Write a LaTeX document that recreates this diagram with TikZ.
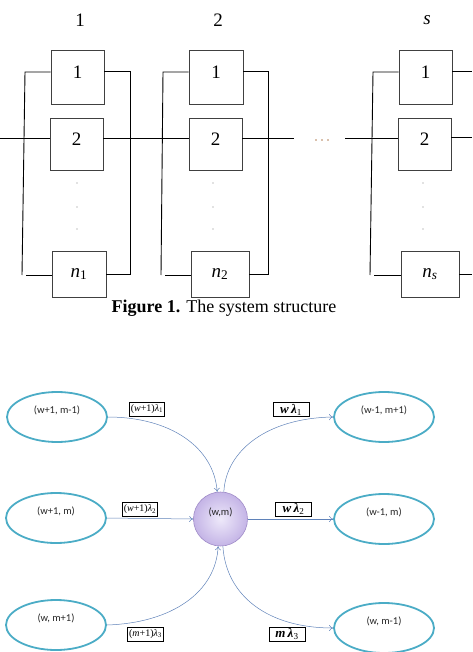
\documentclass[tikz,border=0pt]{standalone}
\usepackage{fontspec}
\setmainfont{Liberation Serif}
\newfontfamily\calib{Carlito}
\usetikzlibrary{shapes.geometric,arrows.meta}
\definecolor{stateteal}{RGB}{75,172,198}
\definecolor{flowblue}{RGB}{95,130,185}
\definecolor{lavin}{RGB}{238,233,250}
\definecolor{lavout}{RGB}{196,180,230}
\definecolor{lavedge}{RGB}{160,140,200}
\definecolor{dotbrown}{RGB}{180,130,90}
\begin{document}
\begin{tikzpicture}[x=1pt,y=-1pt,
  unit/.style={draw=black!75, line width=0.7pt, inner sep=0pt, font=\fontsize{19}{19}\selectfont},
  numunit/.style={unit, text depth=10pt},
  wire/.style={line width=0.9pt, black},
  collabel/.style={font=\fontsize{19}{19}\selectfont},
  state/.style={ellipse, draw=stateteal, line width=1.8pt, minimum width=100pt, minimum height=50pt, inner sep=0pt},
  stxt/.style={font=\calib\fontsize{10.5}{12}\selectfont, text=black!85, yshift=7pt},
  rate/.style={draw, fill=white, line width=0.5pt, font=\fontsize{10}{12}\selectfont, inner xsep=1.5pt, inner ysep=2.5pt},
  brate/.style={draw, fill=white, line width=0.5pt, font=\fontsize{13}{14}\selectfont\bfseries\itshape, inner xsep=2pt, inner ysep=1.5pt, minimum width=36pt},
  flow/.style={-{To[length=4pt,width=6pt]}, draw=flowblue, line width=0.5pt},
  gdot/.style={circle, fill=black!50, inner sep=0pt, minimum size=1.4pt}
]
\useasboundingbox (0,0) rectangle (472,652);

% ---------- top: series-parallel structure ----------
\node[collabel] (c1) at (80,20) {1};
\node[collabel] (c2) at (218,20) {2};
\node[collabel] (cs) at (427,20) {\textit{s}};

% block 1
\node[numunit, minimum width=53pt, minimum height=54pt] (b11) at (77.5,77) {1};
\node[numunit, minimum width=53pt, minimum height=52pt] (b12) at (76.5,144) {2};
\node[unit, minimum width=54pt, minimum height=46pt] (b1n) at (79,274) {\textit{n}\textsubscript{1}};
% block 2
\node[numunit, minimum width=54pt, minimum height=54pt] (b21) at (216,77) {1};
\node[numunit, minimum width=53pt, minimum height=52pt] (b22) at (215.5,144) {2};
\node[unit, minimum width=58pt, minimum height=46pt] (b2n) at (220,274) {\textit{n}\textsubscript{2}};
% block s
\node[numunit, minimum width=53pt, minimum height=54pt] (bs1) at (425.5,77) {1};
\node[numunit, minimum width=53pt, minimum height=52pt] (bs2) at (424.5,144) {2};
\node[unit, minimum width=58pt, minimum height=46pt] (bsn) at (430,274) {\textit{n}\textsubscript{\textit{s}}};

% vertical dots inside blocks
\foreach \x/\n in {77/a,213/b,423/c}{
  \node[gdot] (d1\n) at (\x,183) {};
  \node[gdot] (d2\n) at (\x,207) {};
  \node[gdot] (d3\n) at (\x,229) {};
}

% junction coordinates
\coordinate (L1t) at (25,72);  \coordinate (L1b) at (22,275);  \coordinate (L1h) at (26,275);
\coordinate (R1t) at (130,71); \coordinate (R1b) at (130,274);
\coordinate (L2t) at (163,72); \coordinate (L2b) at (161,275); \coordinate (L2h) at (165,275);
\coordinate (R2t) at (268,71); \coordinate (R2b) at (268,274);
\coordinate (Lst) at (373,72); \coordinate (Lsb) at (370,275); \coordinate (Lsh) at (374,275);
\coordinate (in)  at (0,138);
\coordinate (gapL) at (294,138); \coordinate (gapR) at (345,138);
\coordinate (outT) at (472,71); \coordinate (outM) at (472,137); \coordinate (outB) at (472,274);

% block 1 wiring
\draw[wire] (b11.west |- L1t) -- (L1t) -- (L1b);
\draw[wire] (L1h) -- (b1n.west |- L1h);
\draw[wire] (b11.east |- R1t) -- (R1t) -- (R1b) -- (b1n.east |- R1b);
% block 2 wiring
\draw[wire] (b21.west |- L2t) -- (L2t) -- (L2b);
\draw[wire] (L2h) -- (b2n.west |- L2h);
\draw[wire] (b21.east |- R2t) -- (R2t) -- (R2b) -- (b2n.east |- R2b);
% block s wiring
\draw[wire] (bs1.west |- Lst) -- (Lst) -- (Lsb);
\draw[wire] (Lsh) -- (bsn.west |- Lsh);
\draw[wire] (bs1.east |- outT) -- (outT);
\draw[wire] (bsn.east |- outB) -- (outB);
% main line
\draw[wire] (in) -- (b12.west |- in);
\draw[wire] (b12.east |- in) -- (b22.west |- in);
\draw[wire] (b22.east |- in) -- (gapL);
\draw[wire] (gapR) -- (bs2.west |- in);
\draw[wire] (bs2.east |- outM) -- (outM);
% series dots
\foreach \x/\n in {316/a,322/b,328/c}
  \node[circle, fill=dotbrown, inner sep=0pt, minimum size=1.8pt] (sd\n) at (\x,140) {};

% caption
\node[font=\fontsize{18}{20}\selectfont] (cap) at (224,308) {\textbf{Figure 1.} The system structure};

% ---------- bottom: state transition ----------
\node[state, label={[stxt]center:(w+1, m-1)}] (e1) at (57,417) {};
\node[state, label={[stxt]center:(w+1, m)}] (e2) at (56,518) {};
\node[state, label={[stxt]center:(w, m+1)}] (e3) at (56,625) {};
\node[state, label={[stxt]center:(w-1, m+1)}] (f1) at (384,417) {};
\node[state, label={[stxt]center:(w-1, m)}] (f2) at (384,519) {};
\node[state, label={[stxt]center:(w, m-1)}] (f3) at (384,628) {};

\node[circle, minimum size=54pt, inner sep=0pt, draw=lavedge, line width=0.6pt,
      inner color=lavin, outer color=lavout,
      label={[stxt]center:(w,m)}] (c) at (220.5,519) {};

\draw[flow] (e1.east) .. controls (170,417) and (214,447) .. (c.97);
\draw[flow] (c.83) .. controls (226,450) and (268,418) .. (f1.west);
\draw[flow] (e2.east) -- (c.west);
\draw[flow] (c.east) -- (f2.west);
\draw[flow] (e3.east) .. controls (172,623) and (216,592) .. (c.265);
\draw[flow] (c.275) .. controls (226,596) and (268,628) .. (f3.west);

\node[rate] (r1) at (147,409) {(\textit{w}+1)\textit{λ}\textsubscript{1}};
\node[rate] (r2) at (140,509.5) {(\textit{w}+1)\textit{λ}\textsubscript{2}};
\node[rate] (r3) at (145.5,634) {(\textit{m}+1)\textit{λ}\textsubscript{3}};
\node[brate] (q1) at (291,409.5) {w\,λ\textsubscript{\upshape\mdseries 1}};
\node[brate] (q2) at (293.5,509) {w\,λ\textsubscript{\upshape\mdseries 2}};
\node[brate] (q3) at (287,634) {m\,λ\textsubscript{\upshape\mdseries 3}};
\end{tikzpicture}
\end{document}
